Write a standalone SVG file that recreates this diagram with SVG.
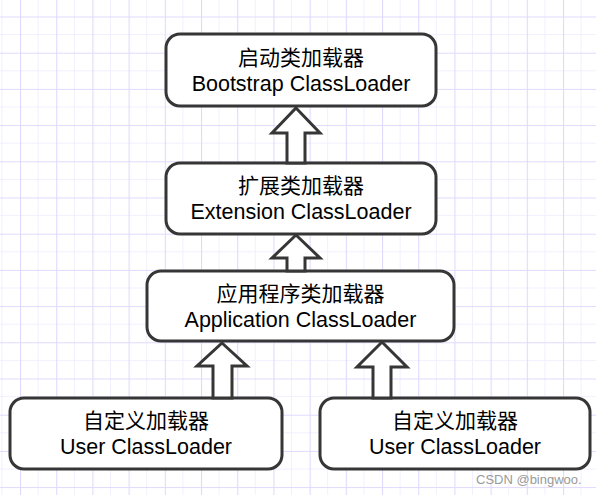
<svg xmlns="http://www.w3.org/2000/svg" width="596" height="495" viewBox="0 0 596 495">
  <defs>
    <pattern id="grid" patternUnits="userSpaceOnUse" x="20" y="16.5" width="36.2" height="36.2">
      <line x1="18.1" y1="0" x2="18.1" y2="36.2" stroke="#f2effe" stroke-width="1"/>
      <line x1="0" y1="18.1" x2="36.2" y2="18.1" stroke="#f2effe" stroke-width="1"/>
      <line x1="0.5" y1="0" x2="0.5" y2="36.2" stroke="#e0d9fd" stroke-width="1.2"/>
      <line x1="0" y1="0.5" x2="36.2" y2="0.5" stroke="#e0d9fd" stroke-width="1.2"/>
    </pattern>
    <style>
      .box { fill: #ffffff; stroke: #363636; stroke-width: 3; }
      .arrow { fill: #ffffff; stroke: #363636; stroke-width: 3; stroke-linejoin: miter; }
      .t { font-family: "Liberation Sans", "Noto Sans CJK SC", sans-serif; font-size: 21px; fill: #000; text-anchor: middle; }
      .e { font-size: 21.5px; }
      .wm { font-family: "Liberation Sans", sans-serif; font-size: 13px; fill: #9a9a9a; }
    </style>
  </defs>
  <rect width="596" height="495" fill="#ffffff"/>
  <rect width="596" height="495" fill="url(#grid)"/>

  <g id="bootstrap">
    <rect class="box" x="166" y="34" width="270" height="72" rx="14"/>
    <text class="t" x="301" y="65">启动类加载器</text>
    <text class="t e" x="301" y="91">Bootstrap ClassLoader</text>
  </g>
  <g id="extension">
    <rect class="box" x="166" y="163" width="270" height="71" rx="14"/>
    <text class="t" x="301" y="193">扩展类加载器</text>
    <text class="t e" x="301" y="218.5">Extension ClassLoader</text>
  </g>
  <g id="application">
    <rect class="box" x="147" y="271" width="307" height="70" rx="14"/>
    <text class="t" x="300.5" y="301">应用程序类加载器</text>
    <text class="t e" x="300.5" y="326.5">Application ClassLoader</text>
  </g>
  <g id="user1">
    <rect class="box" x="10" y="398" width="272" height="71" rx="14"/>
    <text class="t" x="146" y="428">自定义加载器</text>
    <text class="t e" x="146" y="453.5">User ClassLoader</text>
  </g>
  <g id="user2">
    <rect class="box" x="320" y="398" width="270" height="71" rx="14"/>
    <text class="t" x="455" y="428">自定义加载器</text>
    <text class="t e" x="455" y="453.5">User ClassLoader</text>
  </g>

  <g id="connectors">
    <path class="arrow" d="M296,108 L320,133 L305,133 L305,163 L287,163 L287,133 L272,133 Z"/>
    <path class="arrow" d="M296,235 L320,258 L305,258 L305,271 L287,271 L287,258 L272,258 Z"/>
    <path class="arrow" d="M222,343 L247,366 L232,366 L232,398 L213,398 L213,366 L197,366 Z"/>
    <path class="arrow" d="M382,342 L407,367 L391,367 L391,398 L373,398 L373,367 L357,367 Z"/>
  </g>

  <text class="wm" x="476" y="484">CSDN @bingwoo.</text>
</svg>
